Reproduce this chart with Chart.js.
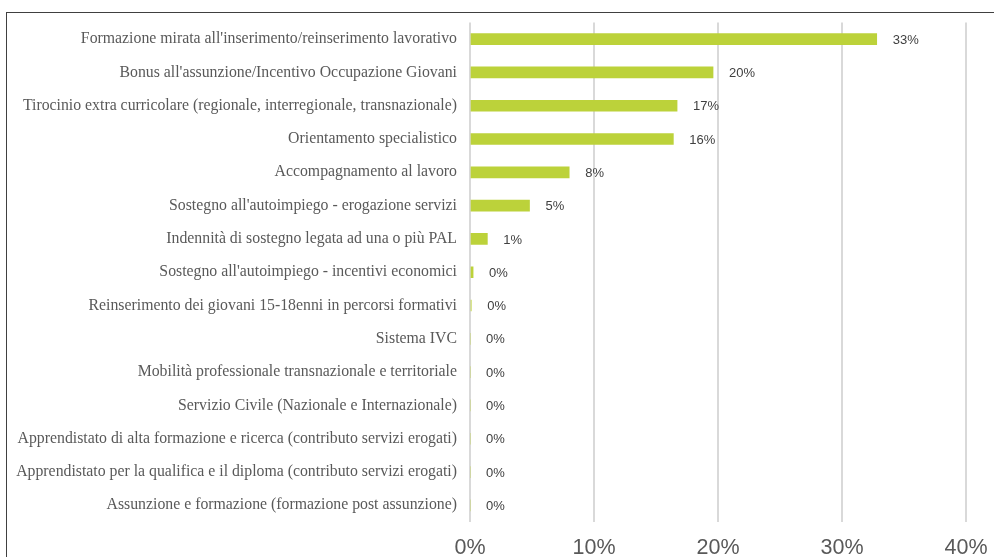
<!DOCTYPE html>
<html>
<head>
<meta charset="utf-8">
<script src="https://cdn.jsdelivr.net/npm/chart.js@4.4.1/dist/chart.umd.min.js"></script>
<style>
  html, body { margin: 0; padding: 0; background: #fff; }
  #wrap { position: relative; width: 994px; height: 557px; overflow: hidden; }
  #frame { position: absolute; left: 6px; top: 12px; width: 1000px; height: 560px;
           border-top: 1.5px solid #404040; border-left: 1.5px solid #404040; }
  #chart { position: absolute; left: 0; top: 0; }
</style>
</head>
<body>
<div id="wrap">
  <div id="frame"></div>
  <canvas id="chart" width="994" height="557"></canvas>
</div>
<script>
// Categories (top to bottom)
const categories = [
    "Formazione mirata all'inserimento/reinserimento lavorativo",
    "Bonus all'assunzione/Incentivo Occupazione Giovani",
    "Tirocinio extra curricolare (regionale, interregionale, transnazionale)",
    "Orientamento specialistico",
    "Accompagnamento al lavoro",
    "Sostegno all'autoimpiego - erogazione servizi",
    "Indennità di sostegno legata ad una o più PAL",
    "Sostegno all'autoimpiego - incentivi economici",
    "Reinserimento dei giovani 15-18enni in percorsi formativi",
    "Sistema IVC",
    "Mobilità professionale transnazionale e territoriale",
    "Servizio Civile (Nazionale e Internazionale)",
    "Apprendistato di alta formazione e ricerca (contributo servizi erogati)",
    "Apprendistato per la qualifica e il diploma (contributo servizi erogati)",
    "Assunzione e formazione (formazione post assunzione)",
];

// Share of each measure, in percent
const shares = [32.8, 19.6, 16.7, 16.4, 8.0, 4.8, 1.4, 0.25, 0.1, 0, 0, 0, 0, 0, 0];

// X axis ticks
const xTicks = [0, 10, 20, 30, 40];

// Draws the "33%" style labels to the right of each bar
const valueLabels = {
    id: "valueLabels",
    afterDatasetsDraw(chart) {
        const ctx = chart.ctx;
        const meta = chart.getDatasetMeta(0);
        const x = chart.scales.x;
        ctx.save();
        ctx.font = "13px 'Liberation Sans', Arial, sans-serif";
        ctx.fillStyle = "#404040";
        ctx.textAlign = "left";
        ctx.textBaseline = "middle";
        meta.data.forEach((bar, i) => {
            const v = shares[i];
            ctx.fillText(Math.round(v) + "%", x.getPixelForValue(v) + 16, bar.y + 1);
        });
        ctx.restore();
    },
};

new Chart(document.getElementById("chart"), {
    type: "bar",
    plugins: [valueLabels],
    data: {
        labels: categories,
        datasets: [
            {
                data: shares,
                backgroundColor: "#bcd23a",
                borderWidth: 0,
                barThickness: 11,
            },
        ],
    },
    options: {
        indexAxis: "y",
        responsive: false,
        animation: false,
        layout: { padding: { top: 22, right: 28, left: 0, bottom: 0 } },
        plugins: {
            legend: { display: false },
            tooltip: { enabled: false },
        },
        scales: {
            x: {
                min: 0,
                max: 40,
                afterBuildTicks: (scale) => { scale.ticks = xTicks.map((v) => ({ value: v })); },
                afterFit: (scale) => {
                    scale.height = 35;
                    scale.paddingRight = 0;
                },
                grid: { color: "#d9d9d9", lineWidth: 2, drawTicks: false },
                border: { display: false },
                ticks: {
                    padding: 13,
                    color: "#595959",
                    font: { family: "'Liberation Sans', Arial, sans-serif", size: 21.5 },
                    callback: (v) => v + "%",
                },
            },
            y: {
                afterFit: (scale) => { scale.width = 470; },
                grid: { display: false, drawTicks: false },
                border: { display: false },
                ticks: {
                    padding: 13,
                    autoSkip: false,
                    color: "#595959",
                    font: { family: "'Liberation Serif', 'Times New Roman', serif", size: 15.8 },
                },
            },
        },
    },
});
</script>
</body>
</html>
